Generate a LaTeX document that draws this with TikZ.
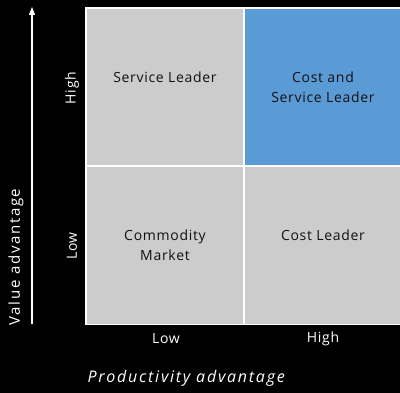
\documentclass[tikz,border=0pt]{standalone}
\usepackage{fontspec}
\setmainfont{Open Sans}
\newfontfamily\wide[LetterSpace=5]{Open Sans}
\newfontfamily\wider[LetterSpace=11]{Open Sans}
\usetikzlibrary{arrows.meta,positioning}
\definecolor{bg}{HTML}{000000}
\definecolor{cell}{HTML}{CCCCCC}
\definecolor{lead}{HTML}{5B9BD5}
\definecolor{text}{HTML}{FFFFFF}
\definecolor{ink}{HTML}{111111}
\tikzset{
  quad/.style={draw=white, line width=1.5pt, fill=cell, minimum width=158pt, minimum height=158pt, inner sep=0pt},
  best/.style={quad, fill=lead},
  lab/.style={text=ink, align=center, font=\wide\fontsize{14}{20}\selectfont},
  tick/.style={text=text, font=\wide\fontsize{14}{16}\selectfont},
  axis/.style={draw=white, line width=1.2pt, -{Triangle[width=6pt,length=8pt]}},
  title/.style={text=text, font=\wider\fontsize{15}{18}\selectfont}
}

\begin{document}
\begin{tikzpicture}[x=1pt, y=-1pt]
  \fill[bg] (0,0) rectangle (400,393);
  \useasboundingbox (0,0) rectangle (400,393);
  % the four quadrants
  \node[quad] (sl) at (165,87) {};
  \node[best] (csl) at (323,87) {};
  \node[quad] (cm) at (165,245.5) {};
  \node[quad] (cl) at (323,245.5) {};
  \node[lab] (slt) at ([yshift=10pt]sl.center) {Service Leader};
  \node[lab] (cslt) at (csl.center) {Cost and\\Service Leader};
  \node[lab] (cmt) at (cm.center) {Commodity\\Market};
  \node[lab] (clt) at ([yshift=10pt]cl.center) {Cost Leader};
  % value axis
  \coordinate (vb) at (32,324);
  \coordinate (vt) at (32,7);
  \draw[axis] (vb) -- (vt);
  \node[tick, rotate=90] (vhi) at (72,88) {High};
  \node[tick, rotate=90] (vlo) at (72,246) {Low};
  \node[title, rotate=90] (vax) at (16,257) {Value advantage};
  % productivity axis
  \node[tick] (plo) at (166,339) {Low};
  \node[tick] (phi) at (323,339) {High};
  \node[title, font=\wider\fontsize{16}{18}\selectfont\itshape, anchor=west] (pax) at (84,378) {Productivity advantage};
\end{tikzpicture}
\end{document}
